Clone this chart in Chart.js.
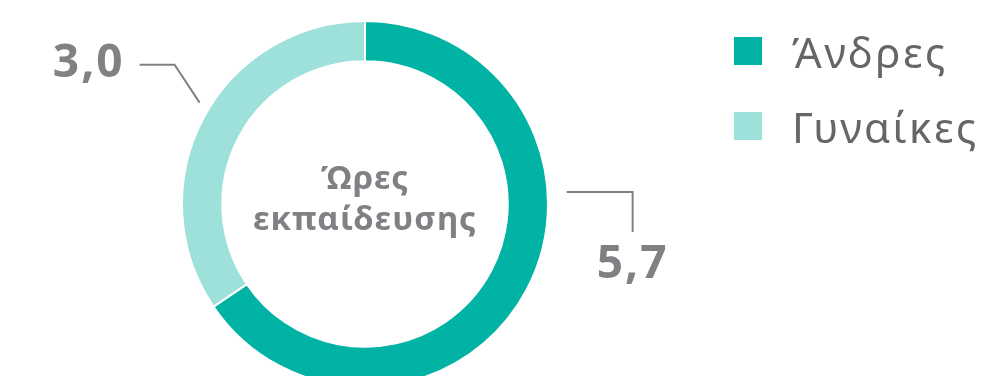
<!DOCTYPE html>
<html>
<head>
<meta charset="utf-8">
<script src="https://cdn.jsdelivr.net/npm/chart.js@4/dist/chart.umd.min.js"></script>
<style>
  html, body { margin: 0; padding: 0; background: #fff; }
  #wrap { position: relative; width: 989px; height: 376px; overflow: hidden; }
  #chart { position: absolute; left: 0; top: 0; }
  #legend { position: absolute; left: 734px; top: 28px; font-family: "Noto Sans", sans-serif; }
  .item { display: flex; align-items: center; height: 46px; margin-bottom: 29px; }
  .swatch { width: 28px; height: 28px; margin-right: 30px; }
  .name { font-size: 42px; color: #666; letter-spacing: 2.5px; font-weight: 400; }
</style>
</head>
<body>
<div id="wrap">
  <canvas id="chart" width="989" height="376"></canvas>
  <div id="legend"></div>
</div>
<script>
const categories = ["Άνδρες", "Γυναίκες"];
const hours = [5.7, 3.0];
const colors = ["#00b3a5", "#9de1da"];
const centerTitle = ["Ώρες", "εκπαίδευσης"];

// leader line geometry per slice: anchor angle (deg, clockwise from top),
// gap past the ring, then elbow segments and the value text baseline offset
const leaders = [
  { angle: 86.6, gap: 19, path: [[66, 0], [0, 40]], text: [0, 46], align: "center" },
  { angle: 301.5, gap: 11, path: [[-25, -38], [-35, 0]], text: [-15, 12], align: "right" }
];

const GREY = "#808185";

const fmt = v => v.toFixed(1).replace(".", ",");

const calloutPlugin = {
  id: "callouts",
  afterDatasetsDraw(chart) {
    const ctx = chart.ctx;
    const arcs = chart.getDatasetMeta(0).data;
    const { x: cx, y: cy, outerRadius } = arcs[0].getProps(["x", "y", "outerRadius"], true);

    // center caption
    ctx.save();
    ctx.fillStyle = GREY;
    ctx.textAlign = "center";
    ctx.textBaseline = "alphabetic";
    ctx.font = "bold 33px 'Noto Sans'";
    ctx.letterSpacing = "1px";
    ctx.fillText(centerTitle[0], cx, cy - 15);
    ctx.fillText(centerTitle[1], cx, cy + 26);
    ctx.restore();

    // value callouts with elbow leader lines
    arcs.forEach((arc, i) => {
      const l = leaders[i];
      const a = l.angle * Math.PI / 180;
      const r = outerRadius + l.gap;
      let x = cx + r * Math.sin(a);
      let y = cy - r * Math.cos(a);
      ctx.save();
      ctx.strokeStyle = GREY;
      ctx.lineWidth = 2;
      ctx.beginPath();
      ctx.moveTo(x, y);
      l.path.forEach(([dx, dy]) => { x += dx; y += dy; ctx.lineTo(x, y); });
      ctx.stroke();
      ctx.fillStyle = GREY;
      ctx.font = "bold 46px 'Noto Sans'";
      ctx.letterSpacing = "2px";
      ctx.textAlign = l.align;
      ctx.textBaseline = "alphabetic";
      ctx.fillText(fmt(hours[i]), x + l.text[0], y + l.text[1]);
      ctx.restore();
    });
  }
};

new Chart(document.getElementById("chart"), {
  type: "doughnut",
  data: {
    labels: categories,
    datasets: [{
      data: hours,
      backgroundColor: colors,
      borderColor: "#fff",
      borderWidth: 2,
      clip: false
    }]
  },
  options: {
    responsive: false,
    animation: false,
    radius: 183,
    cutout: "78%",
    layout: { padding: { left: 0, right: 259, top: 32, bottom: 0 } },
    plugins: { legend: { display: false }, tooltip: { enabled: false } }
  },
  plugins: [calloutPlugin]
});

const legend = document.getElementById("legend");
categories.forEach((name, i) => {
  const item = document.createElement("div");
  item.className = "item";
  item.innerHTML = `<div class="swatch" style="background:${colors[i]}"></div><div class="name">${name}</div>`;
  legend.appendChild(item);
});
</script>
</body>
</html>
